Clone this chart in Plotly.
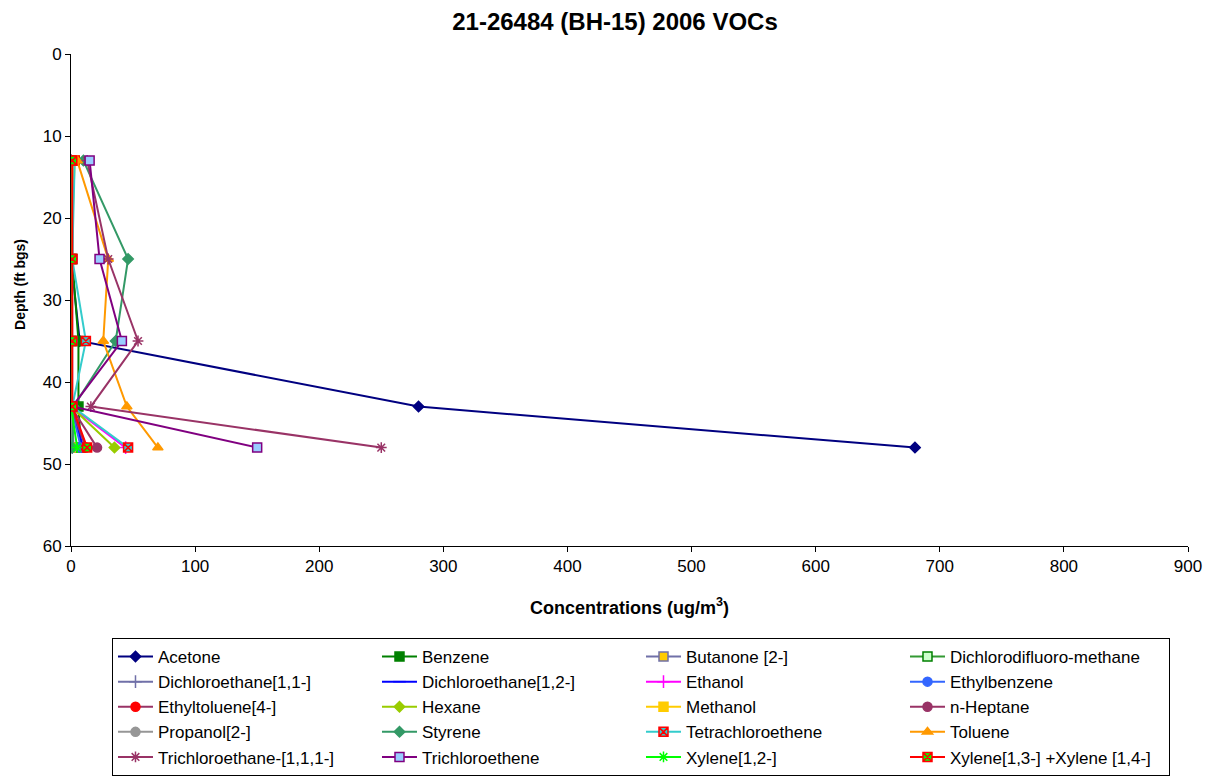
import plotly.graph_objects as go

# depth of each sample (ft bgs)
DEPTHS = [13, 25, 35, 43, 48]

# concentrations (ug/m3), one list per compound
ACETONE = [0, 0, 7, 280, 680]
BENZENE = [1, 1, 6, 6, 8]
BUTANONE = [1, 1, 1, 1, 2]
DICHLORODIFLUOROMETHANE = [0, 0, 0, 0, 1]
DICHLOROETHANE_11 = [0, 0, 0, 0, 1]
DICHLOROETHANE_12 = [0, 0, 0, 0, 10]
ETHANOL = [0, 0, 0, 0, 44]
ETHYLBENZENE = [0, 0, 0, 0, 8]
ETHYLTOLUENE = [0, 0, 0, 0, 12]
HEXANE = [0, 0, 0, 0, 35]
METHANOL = [3, 0, 0, 0, 0]
N_HEPTANE = [0, 0, 0, 0, 21]
PROPANOL = [0, 0, 0, 0, 1]
STYRENE = [10, 46, 36, 2, 1]
TETRACHLOROETHENE = [3, 1, 12, 1, 46]
TOLUENE = [5, 30, 26, 45, 70]
TRICHLOROETHANE_111 = [13, 30, 54, 16, 250]
TRICHLOROETHENE = [15, 23, 41, 1, 150]
XYLENE_12 = [0, 0, 0, 0, 5]
XYLENE_13_14 = [1, 1, 1, 1, 13]

X_TICKS = list(range(0, 901, 100))
Y_TICKS = list(range(0, 61, 10))

# (name, values, line colour, marker symbol, marker fill, marker border)
series = [
    ("Acetone", ACETONE, "#000080", "diamond", "#000080", "#000080"),
    ("Benzene", BENZENE, "#008000", "square", "#008000", "#008000"),
    ("Butanone [2-]", BUTANONE, "#7070A8", "square", "#FFCC00", "#7070A8"),
    ("Dichlorodifluoro-methane", DICHLORODIFLUOROMETHANE, "#339933", "square", "#CCFFCC", "#008000"),
    ("Dichloroethane[1,1-]", DICHLOROETHANE_11, "#7070A8", "cross-thin", "#7070A8", "#7070A8"),
    ("Dichloroethane[1,2-]", DICHLOROETHANE_12, "#0000FF", "line-ew", "#0000FF", "#0000FF"),
    ("Ethanol", ETHANOL, "#FF00FF", "cross-thin", "#FF00FF", "#FF00FF"),
    ("Ethylbenzene", ETHYLBENZENE, "#3366FF", "circle", "#3366FF", "#3366FF"),
    ("Ethyltoluene[4-]", ETHYLTOLUENE, "#993366", "circle", "#FF0000", "#FF0000"),
    ("Hexane", HEXANE, "#99CC00", "diamond", "#99CC00", "#99CC00"),
    ("Methanol", METHANOL, "#FFCC00", "square", "#FFCC00", "#FFCC00"),
    ("n-Heptane", N_HEPTANE, "#993366", "circle", "#993366", "#993366"),
    ("Propanol[2-]", PROPANOL, "#969696", "circle", "#969696", "#969696"),
    ("Styrene", STYRENE, "#339966", "diamond", "#339966", "#339966"),
    ("Tetrachloroethene", TETRACHLOROETHENE, "#33CCCC", "square-x", "#33CCCC", "#FF0000"),
    ("Toluene", TOLUENE, "#FF9900", "triangle-up", "#FF9900", "#FF9900"),
    ("Trichloroethane-[1,1,1-]", TRICHLOROETHANE_111, "#993366", "asterisk-open", "#993366", "#993366"),
    ("Trichloroethene", TRICHLOROETHENE, "#800080", "square", "#99CCFF", "#800080"),
    ("Xylene[1,2-]", XYLENE_12, "#00FF00", "asterisk-open", "#00FF00", "#00FF00"),
    ("Xylene[1,3-] +Xylene [1,4-]", XYLENE_13_14, "#FF0000", "square-x", "#00FF00", "#FF0000"),
]

fig = go.Figure()

for name, vals, lc, sym, fill, border in series:
    size = 8 if sym == "diamond" else 9
    fig.add_trace(go.Scatter(
        x=vals, y=DEPTHS,
        mode="lines+markers", name=name,
        line=dict(color=lc, width=2),
        marker=dict(symbol=sym, size=size, color=fill,
                    line=dict(color=border, width=1.5)),
    ))

# y title sits a little above the axis middle in the original, so it is an annotation
fig.add_annotation(
    text="<b>Depth (ft bgs)</b>", textangle=-90, showarrow=False,
    xref="paper", yref="paper", x=-0.0457, y=0.5325,
    xanchor="center", yanchor="middle", font=dict(size=14),
)

# the page body adds an 8px offset, so margins are shifted to compensate
fig.update_layout(
    width=1213, height=776,
    paper_bgcolor="white", plot_bgcolor="white",
    font=dict(family="Arial, Liberation Sans, sans-serif", size=17, color="black"),
    title=dict(text="<b>21-26484 (BH-15) 2006 VOCs</b>", x=0.5004, xanchor="center",
               y=0.982, yanchor="middle", font=dict(size=24)),
    margin=dict(l=63, r=33, t=46, b=238, autoexpand=False),
    showlegend=True,
    legend=dict(
        orientation="h", x=0.0367, xanchor="left", y=-0.187, yanchor="top",
        entrywidth=214, entrywidthmode="pixels",
        bordercolor="black", borderwidth=1, bgcolor="white",
        font=dict(size=17), itemwidth=35, tracegroupgap=0,
    ),
    xaxis=dict(
        range=[0, 900], tickvals=X_TICKS, showgrid=False, zeroline=False,
        showline=True, linecolor="black", linewidth=1,
        ticks="outside", ticklen=5, tickcolor="black",
        title=dict(text="<b>Concentrations (ug/m<sup>3</sup>)</b>", font=dict(size=18), standoff=25),
    ),
    yaxis=dict(
        range=[60, 0], tickvals=Y_TICKS, showgrid=False, zeroline=False,
        showline=True, linecolor="black", linewidth=1,
        ticks="outside", ticklen=5, tickcolor="black",
    ),
)

fig.write_html("out.html")
